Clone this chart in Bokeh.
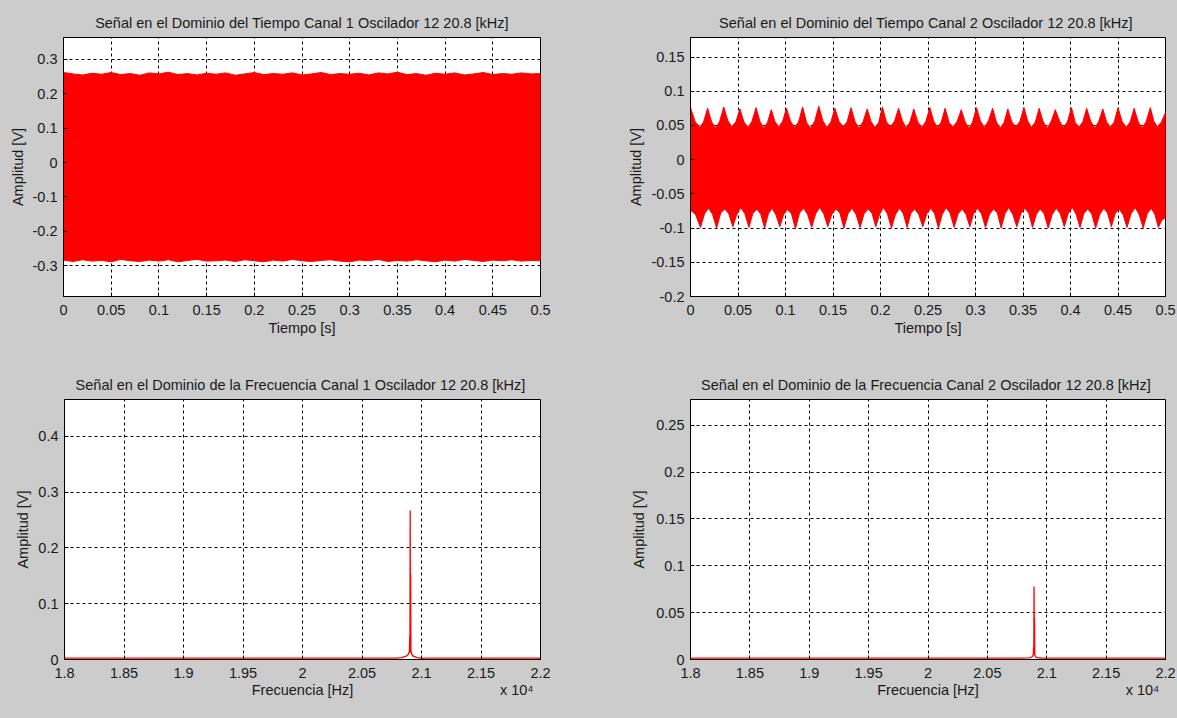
from bokeh.plotting import figure
from bokeh.layouts import column, row
from bokeh.models import FixedTicker, LinearAxis, Range1d
from bokeh.embed import file_html
from bokeh.resources import INLINE

# ---------------- data ----------------
titles = [
    "Señal en el Dominio del Tiempo Canal 1 Oscilador 12 20.8 [kHz]",
    "Señal en el Dominio del Tiempo Canal 2 Oscilador 12  20.8 [kHz]",
    "Señal en el Dominio de la Frecuencia Canal 1 Oscilador 12  20.8 [kHz]",
    "Señal en el Dominio de la Frecuencia Canal 2 Oscilador 12  20.8 [kHz]",
]
time_label = "Tiempo [s]"
freq_label = "Frecuencia [Hz]"
amp_label = "Amplitud [V]"
freq_multiplier = "x 10\u2074"

time_ticks = [0, 0.05, 0.1, 0.15, 0.2, 0.25, 0.3, 0.35, 0.4, 0.45, 0.5]
time_tick_labels = ["0", "0.05", "0.1", "0.15", "0.2", "0.25", "0.3", "0.35", "0.4", "0.45", "0.5"]
ch1_time_yticks = [-0.3, -0.2, -0.1, 0, 0.1, 0.2, 0.3]
ch1_time_ylabels = ["-0.3", "-0.2", "-0.1", "0", "0.1", "0.2", "0.3"]
ch2_time_yticks = [-0.2, -0.15, -0.1, -0.05, 0, 0.05, 0.1, 0.15]
ch2_time_ylabels = ["-0.2", "-0.15", "-0.1", "-0.05", "0", "0.05", "0.1", "0.15"]
freq_ticks = [18000, 18500, 19000, 19500, 20000, 20500, 21000, 21500, 22000]
freq_tick_labels = ["1.8", "1.85", "1.9", "1.95", "2", "2.05", "2.1", "2.15", "2.2"]
ch1_freq_yticks = [0, 0.1, 0.2, 0.3, 0.4]
ch1_freq_ylabels = ["0", "0.1", "0.2", "0.3", "0.4"]
ch2_freq_yticks = [0, 0.05, 0.1, 0.15, 0.2, 0.25]
ch2_freq_ylabels = ["0", "0.05", "0.1", "0.15", "0.2", "0.25"]

# channel 1 time signal envelope (dense 20.9 kHz carrier drawn as its envelope)
env1_t = [0.0, 0.01, 0.02, 0.03, 0.04, 0.05, 0.06, 0.07, 0.08, 0.09, 0.1, 0.11, 0.12,
          0.13, 0.14, 0.15, 0.16, 0.17, 0.18, 0.19, 0.2, 0.21, 0.22, 0.23, 0.24, 0.25,
          0.26, 0.27, 0.28, 0.29, 0.3, 0.31, 0.32, 0.33, 0.34, 0.35, 0.36, 0.37, 0.38,
          0.39, 0.4, 0.41, 0.42, 0.43, 0.44, 0.45, 0.46, 0.47, 0.48, 0.49, 0.5]
env1_upper = [0.262, 0.258, 0.255, 0.260, 0.257, 0.262, 0.256, 0.259, 0.254, 0.261,
              0.258, 0.263, 0.256, 0.259, 0.255, 0.260, 0.257, 0.261, 0.254, 0.258,
              0.262, 0.256, 0.259, 0.257, 0.261, 0.255, 0.258, 0.262, 0.256, 0.259,
              0.257, 0.260, 0.255, 0.261, 0.258, 0.263, 0.256, 0.259, 0.254, 0.260,
              0.257, 0.261, 0.255, 0.258, 0.262, 0.256, 0.259, 0.257, 0.261, 0.258, 0.259]
env1_lower = [-0.284, -0.288, -0.283, -0.287, -0.285, -0.289, -0.282, -0.286, -0.288, -0.284,
              -0.287, -0.283, -0.289, -0.285, -0.282, -0.287, -0.286, -0.284, -0.288, -0.283,
              -0.286, -0.289, -0.284, -0.287, -0.282, -0.286, -0.288, -0.285, -0.283, -0.287,
              -0.289, -0.284, -0.286, -0.282, -0.288, -0.285, -0.287, -0.283, -0.286, -0.289,
              -0.284, -0.287, -0.282, -0.285, -0.288, -0.284, -0.286, -0.283, -0.287, -0.285, -0.286]

# channel 2 time signal envelope (60 Hz ripple on top of carrier)
ch2_peak_t = [0.0, 0.018, 0.035, 0.052, 0.069, 0.085, 0.101, 0.118, 0.135, 0.152, 0.169,
              0.186, 0.202, 0.219, 0.235, 0.252, 0.268, 0.285, 0.301, 0.318, 0.334, 0.351,
              0.367, 0.384, 0.401, 0.417, 0.434, 0.450, 0.467, 0.484, 0.5]
ch2_peak_v = [0.076, 0.075, 0.077, 0.074, 0.076, 0.073, 0.075, 0.077, 0.078, 0.075, 0.076,
              0.074, 0.077, 0.075, 0.074, 0.076, 0.075, 0.073, 0.076, 0.075, 0.074, 0.076,
              0.075, 0.073, 0.076, 0.075, 0.074, 0.076, 0.075, 0.076, 0.069]
ch2_trough_t = [0.0095, 0.0265, 0.0435, 0.0605, 0.077, 0.093, 0.1095, 0.1265, 0.1435, 0.1605,
                0.1775, 0.194, 0.2105, 0.227, 0.2435, 0.260, 0.2765, 0.293, 0.3095, 0.326,
                0.3425, 0.359, 0.3755, 0.3925, 0.409, 0.4255, 0.442, 0.4585, 0.4755, 0.4915]
ch2_trough_v = [0.047, 0.046, 0.048, 0.047, 0.046, 0.048, 0.047, 0.046, 0.047, 0.048,
                0.046, 0.047, 0.048, 0.046, 0.047, 0.047, 0.048, 0.046, 0.047, 0.046,
                0.048, 0.047, 0.046, 0.047, 0.048, 0.046, 0.047, 0.047, 0.046, 0.048]
ch2_upper_shoulder_v = [0.056, 0.055, 0.055, 0.056, 0.057, 0.055, 0.055, 0.056, 0.056, 0.054,
                        0.055, 0.056, 0.056, 0.055, 0.054, 0.056, 0.057, 0.055, 0.056, 0.055,
                        0.055, 0.056, 0.056, 0.054, 0.055, 0.056, 0.057, 0.055, 0.055, 0.056,
                        0.056, 0.055, 0.054, 0.056, 0.055, 0.055, 0.056, 0.057, 0.055, 0.054,
                        0.055, 0.056, 0.056, 0.055, 0.055, 0.056, 0.057, 0.055, 0.054, 0.055,
                        0.056, 0.056, 0.055, 0.055, 0.056, 0.055, 0.055, 0.056, 0.056, 0.055]
ch2_dip_t = [0.0105, 0.0275, 0.0445, 0.0615, 0.078, 0.094, 0.1105, 0.1275, 0.1445, 0.1615,
             0.1785, 0.195, 0.2115, 0.228, 0.2445, 0.261, 0.2775, 0.294, 0.3105, 0.327,
             0.3435, 0.360, 0.3765, 0.3935, 0.410, 0.4265, 0.443, 0.4595, 0.4765, 0.4925]
ch2_dip_v = [-0.099, -0.100, -0.098, -0.099, -0.100, -0.098, -0.101, -0.099, -0.098, -0.100,
             -0.099, -0.098, -0.100, -0.099, -0.098, -0.100, -0.099, -0.098, -0.099, -0.100,
             -0.098, -0.099, -0.100, -0.098, -0.099, -0.100, -0.098, -0.099, -0.100, -0.099]
ch2_rise_t = [0.0, 0.019, 0.036, 0.053, 0.070, 0.086, 0.102, 0.119, 0.136, 0.153, 0.170,
              0.187, 0.203, 0.220, 0.236, 0.253, 0.269, 0.286, 0.302, 0.319, 0.335, 0.352,
              0.368, 0.385, 0.402, 0.418, 0.435, 0.451, 0.468, 0.485, 0.5]
ch2_rise_v = [-0.074, -0.071, -0.072, -0.070, -0.072, -0.071, -0.073, -0.071, -0.070, -0.072,
              -0.071, -0.072, -0.070, -0.071, -0.072, -0.071, -0.070, -0.072, -0.071, -0.072,
              -0.070, -0.071, -0.072, -0.071, -0.070, -0.072, -0.071, -0.072, -0.070, -0.071, -0.085]
ch2_lower_shoulder_v = [-0.080, -0.079, -0.080, -0.078, -0.079, -0.080, -0.079, -0.078, -0.080, -0.079,
                        -0.081, -0.080, -0.079, -0.078, -0.080, -0.079, -0.079, -0.080, -0.078, -0.079,
                        -0.080, -0.079, -0.078, -0.080, -0.079, -0.080, -0.079, -0.078, -0.080, -0.079,
                        -0.079, -0.080, -0.078, -0.079, -0.080, -0.079, -0.079, -0.080, -0.078, -0.079,
                        -0.080, -0.079, -0.078, -0.080, -0.079, -0.080, -0.079, -0.078, -0.080, -0.079,
                        -0.079, -0.080, -0.078, -0.079, -0.080, -0.079, -0.080, -0.079, -0.080, -0.088]

# spectra
spec1_f = [18000, 20790, 20830, 20860, 20878, 20888, 20895, 20899, 20901, 20903, 20905,
           20907, 20909, 20911, 20914, 20919, 20926, 20940, 20965, 21000, 22000]
spec1_a = [0.0025, 0.0025, 0.0035, 0.005, 0.007, 0.009, 0.012, 0.016, 0.041, 0.012, 0.267,
           0.014, 0.153, 0.016, 0.012, 0.009, 0.007, 0.005, 0.0035, 0.0025, 0.0025]
spec2_f = [18000, 20800, 20840, 20865, 20877, 20883, 20887, 20889, 20891, 20893, 20895,
           20897, 20899, 20902, 20907, 20914, 20928, 20950, 21000, 22000]
spec2_a = [0.0015, 0.0015, 0.0017, 0.002, 0.003, 0.004, 0.006, 0.013, 0.005, 0.078, 0.005,
           0.0445, 0.006, 0.004, 0.003, 0.0022, 0.0018, 0.0016, 0.0015, 0.0015]

# ---------------- styling ----------------
FONT = "Liberation Sans"
FS = "14.5px"
TXT = "#1a1a1a"
BG = "#cccccc"
RED = "#ff0000"


def make_fig(title, width, height, xr, yr, mbl, mbr, mbt, mbb,
             xticks, xlabels, yticks, ylabels, xlabel, ylabel_std):
    p = figure(width=width, height=height,
               x_range=Range1d(*xr), y_range=Range1d(*yr),
               output_backend="svg", toolbar_location=None, tools="",
               min_border_left=mbl, min_border_right=mbr,
               min_border_top=mbt, min_border_bottom=mbb)
    p.title.text = title
    p.title.align = "center"
    p.title.text_font = FONT
    p.title.text_font_size = FS
    p.title.text_font_style = "normal"
    p.title.text_color = TXT
    if "standoff" in p.title.properties():
        p.title.standoff = 14
    p.background_fill_color = "white"
    p.border_fill_color = BG
    p.outline_line_color = "black"
    p.outline_line_width = 1
    p.outline_line_alpha = 1.0
    p.xaxis.ticker = FixedTicker(ticks=xticks)
    p.xaxis.major_label_overrides = dict(zip(xticks, xlabels))
    p.yaxis.ticker = FixedTicker(ticks=yticks)
    p.yaxis.major_label_overrides = dict(zip(yticks, ylabels))
    if xlabel:
        p.xaxis.axis_label = xlabel
    p.yaxis.axis_label = amp_label
    for ax in (p.xaxis[0], p.yaxis[0]):
        ax.axis_line_color = "black"
        ax.major_tick_line_color = "black"
        ax.major_tick_in = 4
        ax.major_tick_out = 0
        ax.minor_tick_line_color = None
        ax.major_label_text_font = FONT
        ax.major_label_text_font_size = FS
        ax.major_label_text_color = TXT
        ax.axis_label_text_font = FONT
        ax.axis_label_text_font_size = FS
        ax.axis_label_text_font_style = "normal"
        ax.axis_label_text_color = TXT
    p.xaxis.major_label_standoff = 8
    p.yaxis.major_label_standoff = 6
    p.xaxis.axis_label_standoff = 2
    p.yaxis.axis_label_standoff = ylabel_std
    p.grid.grid_line_color = "black"
    p.grid.grid_line_dash = "3 3"
    p.grid.grid_line_width = 1
    p.grid.grid_line_alpha = 1.0
    return p


def add_freq_label_axis(p, mult_x):
    # second row under the tick labels: axis title in the centre, "x 10^4" at the right
    ax = LinearAxis(ticker=FixedTicker(ticks=[20000, mult_x]),
                    major_label_overrides={20000: freq_label, mult_x: freq_multiplier},
                    axis_line_color=None, major_tick_line_color=None,
                    minor_tick_line_color=None, major_tick_in=0, major_tick_out=0,
                    major_label_standoff=1,
                    major_label_text_font=FONT, major_label_text_font_size=FS,
                    major_label_text_color=TXT)
    p.add_layout(ax, "below")


def merged_with_shoulders(pts_a, pts_b, shoulder_v):
    pts = sorted(pts_a + pts_b)
    xs, ys = [pts[0][0]], [pts[0][1]]
    for i in range(1, len(pts)):
        xs.append((pts[i - 1][0] + pts[i][0]) / 2)
        ys.append(shoulder_v[i - 1])
        xs.append(pts[i][0])
        ys.append(pts[i][1])
    return xs, ys


# top-left: channel 1 time
p1 = make_fig(titles[0], 600, 360, (0, 0.5), (-0.39, 0.364), 63, 60, 37, 63,
              time_ticks, time_tick_labels, ch1_time_yticks, ch1_time_ylabels, time_label, 4)
p1.patch(env1_t + env1_t[::-1], env1_upper + env1_lower[::-1],
         fill_color=RED, line_color=RED, line_width=1)

# top-right: channel 2 time
p2 = make_fig(titles[1], 577, 360, (0, 0.5), (-0.2, 0.1785), 90, 12, 36, 64,
              time_ticks, time_tick_labels, ch2_time_yticks, ch2_time_ylabels, time_label, 4)
ux, uy = merged_with_shoulders(list(zip(ch2_peak_t, ch2_peak_v)),
                               list(zip(ch2_trough_t, ch2_trough_v)), ch2_upper_shoulder_v)
lx, ly = merged_with_shoulders(list(zip(ch2_rise_t, ch2_rise_v)),
                               list(zip(ch2_dip_t, ch2_dip_v)), ch2_lower_shoulder_v)
p2.patch(ux + lx[::-1], uy + ly[::-1], fill_color=RED, line_color=RED, line_width=1)

# bottom-left: channel 1 spectrum
p3 = make_fig(titles[2], 600, 358, (18000, 22000), (0, 0.466), 64, 60, 39, 59,
              freq_ticks, freq_tick_labels, ch1_freq_yticks, ch1_freq_ylabels, None, 4)
p3.line(spec1_f, spec1_a, line_color=RED, line_width=1.3)
add_freq_label_axis(p3, 21800)

# bottom-right: channel 2 spectrum
p4 = make_fig(titles[3], 577, 358, (18000, 22000), (0, 0.2775), 90, 12, 39, 59,
              freq_ticks, freq_tick_labels, ch2_freq_yticks, ch2_freq_ylabels, None, 6)
p4.line(spec2_f, spec2_a, line_color=RED, line_width=1.3)
add_freq_label_axis(p4, 21806)

bg = {"background-color": BG}
layout = column(row(p1, p2, styles=bg), row(p3, p4, styles=bg), styles=bg)

open("out.html", "w").write(file_html(layout, INLINE))
